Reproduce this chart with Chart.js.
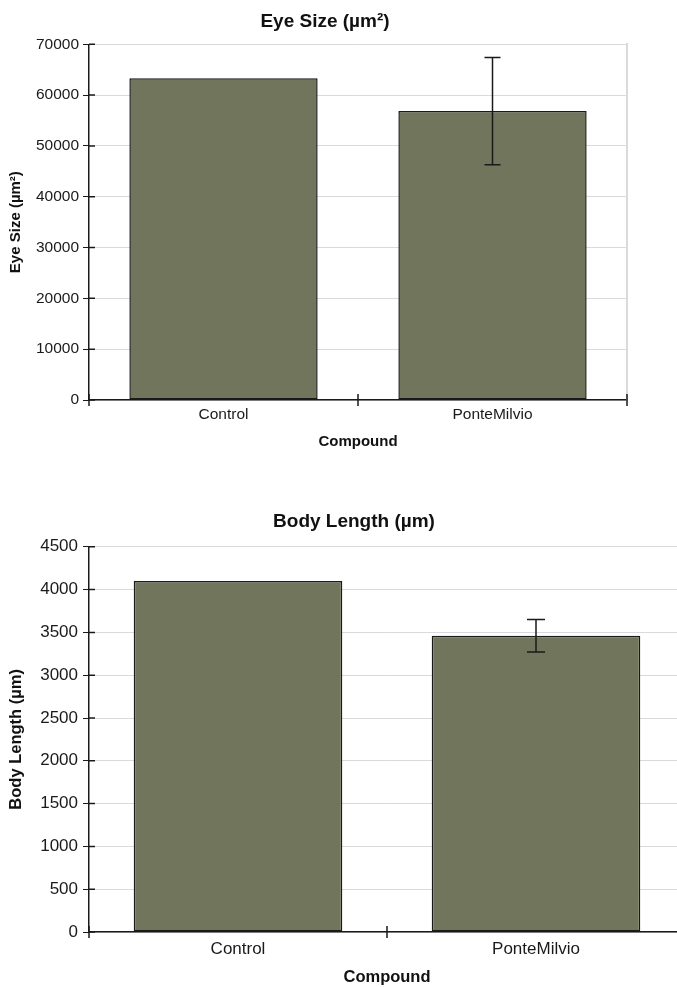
<!DOCTYPE html>
<html>
<head>
<meta charset="utf-8">
<script src="https://cdn.jsdelivr.net/npm/chart.js@4"></script>
<style>
  body { margin: 0; background: #fff; overflow: hidden; width: 677px; height: 987px; position: relative; }
  canvas { position: absolute; left: 0; }
  #eyeChart { top: 0; }
  #bodyChart { top: 490px; }
</style>
</head>
<body>
<canvas id="eyeChart" width="650" height="460"></canvas>
<canvas id="bodyChart" width="708" height="497"></canvas>
<script>
// data
const compounds = ['Control', 'PonteMilvio'];
const eyeSize = [63300, 56850];
const eyeSizeErr = [0, 10550];
const bodyLength = [4100, 3460];
const bodyLengthErr = [0, 190];

const barColor = '#71755b';
const inkColor = '#1a1a1a';
const gridColor = '#dadada';

Chart.defaults.font.family = "'Liberation Sans', Arial, sans-serif";
Chart.defaults.color = inkColor;
Chart.defaults.animation = false;

// error bars on top of the bars, positioned through the y scale
const errorBars = {
    id: 'errorBars',
    afterDatasetsDraw(chart, args, opts) {
        const errs = opts.errors || [];
        const y = chart.scales.y;
        const values = chart.data.datasets[0].data;
        const ctx = chart.ctx;
        ctx.save();
        ctx.strokeStyle = inkColor;
        ctx.lineWidth = 1.5;
        chart.getDatasetMeta(0).data.forEach((bar, i) => {
            if (!errs[i]) return;
            const top = y.getPixelForValue(values[i] + errs[i]);
            const bottom = y.getPixelForValue(values[i] - errs[i]);
            const half = opts.capWidth / 2;
            ctx.beginPath();
            ctx.moveTo(bar.x, top); ctx.lineTo(bar.x, bottom);
            ctx.moveTo(bar.x - half, top); ctx.lineTo(bar.x + half, top);
            ctx.moveTo(bar.x - half, bottom); ctx.lineTo(bar.x + half, bottom);
            ctx.stroke();
        });
        ctx.restore();
    }
};

// tick marks that cross the axis lines, like the original
const crossTicks = {
    id: 'crossTicks',
    afterDraw(chart) {
        const {x, y} = chart.scales;
        const ctx = chart.ctx;
        ctx.save();
        ctx.strokeStyle = inkColor;
        ctx.lineWidth = 1.5;
        ctx.beginPath();
        for (let i = 0; i <= compounds.length; i++) {
            const px = x.getPixelForValue(i - 0.5);
            ctx.moveTo(px, y.bottom - 6); ctx.lineTo(px, y.bottom + 6);
        }
        y.ticks.forEach(t => {
            const py = y.getPixelForValue(t.value);
            ctx.moveTo(x.left, py); ctx.lineTo(x.left + 6, py);
        });
        ctx.stroke();
        ctx.restore();
    }
};

function makeChart(id, title, values, errs, yMax, yStep, s) {
    return new Chart(document.getElementById(id), {
        type: 'bar',
        data: {
            labels: compounds,
            datasets: [{
                data: values,
                backgroundColor: barColor,
                borderColor: inkColor,
                borderWidth: 1.5,
                borderSkipped: false,
                barPercentage: 0.7,
                categoryPercentage: 1.0
            }]
        },
        options: {
            responsive: false,
            layout: { padding: 0 },
            plugins: {
                legend: { display: false },
                tooltip: { enabled: false },
                title: {
                    display: true,
                    text: title,
                    color: '#111',
                    fullSize: true,
                    font: { size: 19, weight: 'bold' },
                    padding: { top: s.titleTop, bottom: s.titleBottom }
                },
                errorBars: { errors: errs, capWidth: s.cap }
            },
            scales: {
                x: {
                    grid: { display: false, drawTicks: false },
                    border: { color: inkColor, width: 1.5 },
                    ticks: { font: { size: s.tick }, padding: s.xTickPad, color: inkColor },
                    title: {
                        display: true, text: 'Compound', color: '#111',
                        font: { size: s.axisTitle, weight: 'bold' },
                        padding: { top: 0, bottom: s.xTitlePad }
                    },
                    afterFit: scale => { scale.height = s.xHeight; }
                },
                y: {
                    min: 0,
                    max: yMax,
                    grid: { color: gridColor, tickColor: inkColor, tickLength: 6 },
                    border: { color: inkColor, width: 1.5 },
                    ticks: {
                        stepSize: yStep,
                        font: { size: s.tick },
                        padding: s.yTickPad,
                        color: inkColor,
                        callback: v => String(v)
                    },
                    title: {
                        display: true, text: title, color: '#111',
                        font: { size: s.axisTitle, weight: 'bold' },
                        padding: { top: s.yTitlePad, bottom: 0 }
                    },
                    afterFit: scale => { scale.width = 89; }
                },
                edge: {
                    type: 'linear',
                    position: 'right',
                    grid: { drawOnChartArea: false, drawTicks: false },
                    border: { color: gridColor, width: 2 },
                    ticks: { display: false },
                    afterFit: scale => { scale.width = 23; }
                }
            }
        },
        plugins: [errorBars, crossTicks]
    });
}

makeChart('eyeChart', 'Eye Size (µm²)', eyeSize, eyeSizeErr, 70000, 10000, {
    titleTop: 10, titleBottom: 11.5, tick: 15.5, xTickPad: 5, xHeight: 60,
    axisTitle: 15, xTitlePad: 9, yTickPad: 4, yTitlePad: 7, cap: 16
});

makeChart('bodyChart', 'Body Length (µm)', bodyLength, bodyLengthErr, 4500, 500, {
    titleTop: 20, titleBottom: 14, tick: 17, xTickPad: 7, xHeight: 55,
    axisTitle: 16.5, xTitlePad: 0, yTickPad: 5, yTitlePad: 7, cap: 18
});
</script>
</body>
</html>
